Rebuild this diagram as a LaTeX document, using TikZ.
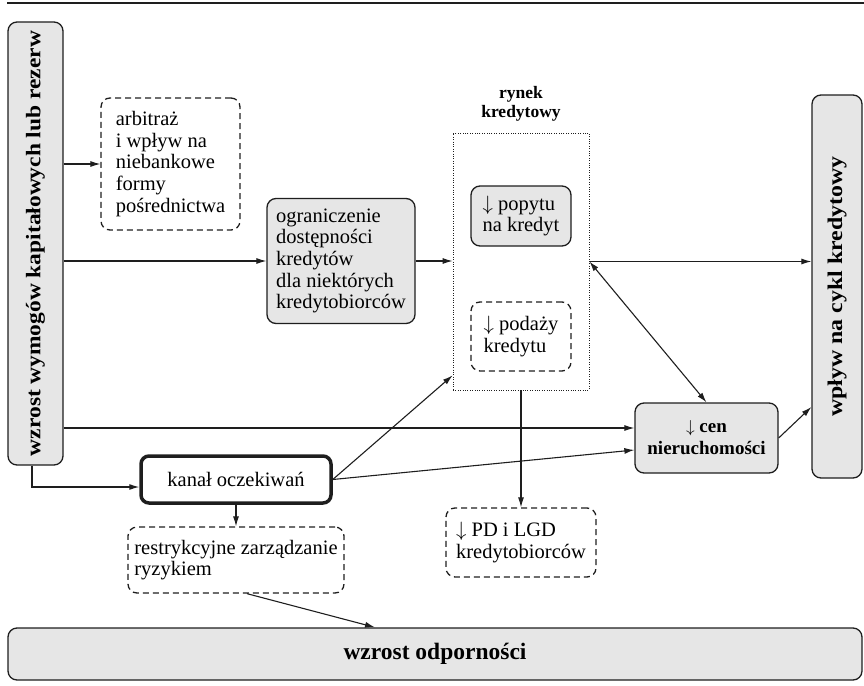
\documentclass[tikz,border=0pt]{standalone}
\usepackage{fontspec}
\setmainfont{Liberation Serif}
\usetikzlibrary{arrows.meta,calc}
\definecolor{boxgray}{HTML}{E6E6E6}
\definecolor{ink}{HTML}{1E1E1E}
\tikzset{
  base/.style={draw=ink, line width=1.3pt, rounded corners=9pt, inner sep=0pt, align=left,
    font=\fontsize{20.5}{21.7}\selectfont},
  graybox/.style={base, fill=boxgray},
  dbox/.style={base, dash pattern=on 6pt off 4pt},
  arr/.style={draw=ink, line width=1.1pt, -{Latex[length=10pt,width=6pt]}},
  arrboth/.style={draw=ink, line width=1.1pt, {Latex[length=10pt,width=6pt]}-{Latex[length=10pt,width=6pt]}},
}
\begin{document}
\begin{tikzpicture}[x=1pt,y=-1pt]
\useasboundingbox (0,0) rectangle (864,685);
\draw[ink, line width=1.2pt] (7,3) -- (864,3);

\node[graybox, minimum width=55pt, minimum height=443pt] (L) at (35.5,243.5)
  {\rotatebox{90}{\resizebox*{425pt}{19pt}{\bfseries wzrost wymogów kapitałowych lub rezerw}}};
\node[dbox, minimum width=139pt, minimum height=132pt] (A) at (170.5,164)
  {arbitraż\\i wpływ na\\niebankowe\\formy\\pośrednictwa};
\node[graybox, minimum width=148pt, minimum height=125pt] (O) at (341,261)
  {ograniczenie\\dostępności\\kredytów\\dla niektórych\\kredytobiorców};
\node[draw=ink, line width=0.8pt, dash pattern=on 1pt off 1.4pt, minimum width=136pt, minimum height=257pt, inner sep=0pt] (R) at (521,261.5) {};
\node[font=\fontsize{17.5}{19}\selectfont\bfseries, align=center] (RL) at (521,104) {rynek\\kredytowy};
\node[graybox, minimum width=100pt, minimum height=60pt] (P) at (521,216)
  {$\downarrow$ popytu\\na kredyt};
\node[dbox, minimum width=100pt, minimum height=69pt] (S) at (521,336.5)
  {$\downarrow$ podaży\\kredytu};
\node[graybox, minimum width=50pt, minimum height=383pt] (W) at (837,286.5)
  {\rotatebox{90}{\resizebox*{260pt}{19pt}{\bfseries wpływ na cykl kredytowy}}};
\node[graybox, minimum width=143pt, minimum height=70pt, align=center,
  font=\fontsize{19}{22}\selectfont\bfseries] (C) at (706.5,438)
  {$\downarrow$ cen\\nieruchomości};
\node[base, line width=3.5pt, rounded corners=8pt, fill=white, minimum width=190pt, minimum height=47pt] (K) at (236,479.5)
  {kanał oczekiwań};
\node[dbox, minimum width=216pt, minimum height=66pt] (Z) at (236,560)
  {restrykcyjne zarządzanie\\ryzykiem};
\node[dbox, minimum width=150pt, minimum height=69pt] (D) at (521,542.5)
  {$\downarrow$ PD i LGD\\kredytobiorców};
\node[graybox, minimum width=854pt, minimum height=52pt, align=center,
  font=\fontsize{23.5}{26}\selectfont\bfseries] (B) at (435,654)
  {wzrost odporności};

\coordinate (cw) at ([yshift=10pt]C.west);
\coordinate (kw) at ([yshift=-7.5pt]K.west);
\coordinate (lb) at ([xshift=-3.5pt]L.south);

\draw[arr] (L.east |- A.west) -- (A.west);
\draw[arr] (L.east |- O.west) -- (O.west);
\draw[arr] (O.east) -- (O.east -| R.west);
\draw[arr] (R.east) -- (R.east -| W.west);
\draw[arrboth] (R.east) -- (C.north);
\draw[arr] (L.east |- cw) -- (cw);
\draw[arr] (lb) |- (kw);
\draw[arr] (K.east) -- ([yshift=15pt]R.south west);
\draw[arr] (K.east) -- ([yshift=-12pt]C.west);
\draw[arr] (R.south) -- (D.north);
\draw[arr] (K.south) -- (Z.north);
\draw[arr] ([xshift=11pt]Z.south) -- ([xshift=-60pt]B.north);
\draw[arr] (C.east) -- ([yshift=-120.5pt]W.west);
\end{tikzpicture}
\end{document}
